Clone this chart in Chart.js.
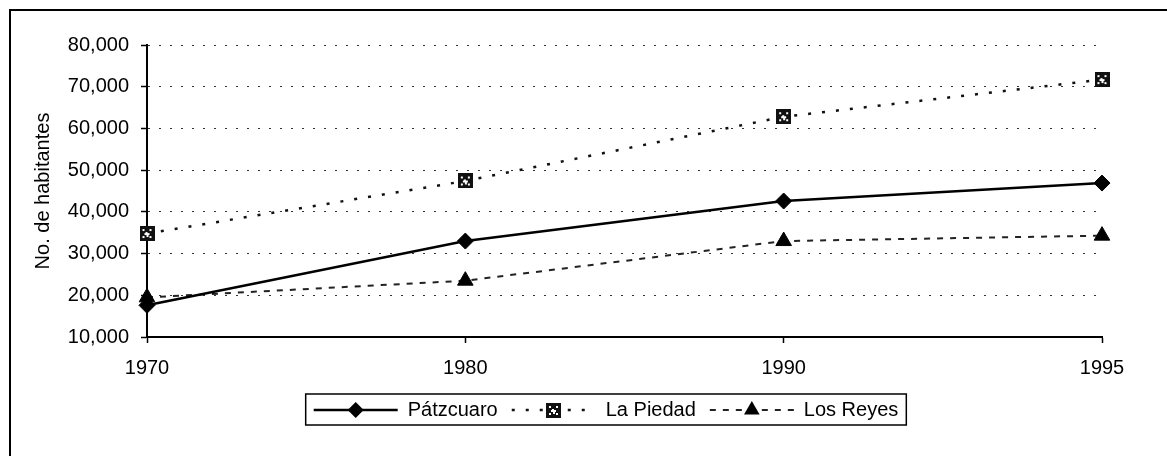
<!DOCTYPE html>
<html>
<head>
<meta charset="utf-8">
<script src="https://cdn.jsdelivr.net/npm/chart.js@4.4.0/dist/chart.umd.min.js"></script>
<style>
  html, body { margin: 0; padding: 0; background: #fff; overflow: hidden; }
  #wrap { position: relative; width: 1167px; height: 456px; }
  #frame { position: absolute; left: 9px; top: 9px; width: 1200px; height: 500px; border: 2px solid #000; pointer-events: none; }
  canvas { position: absolute; left: 0; top: 0; }
</style>
</head>
<body>
<div id="wrap">
  <canvas id="popChart" width="1167" height="456"></canvas>
  <div id="frame"></div>
</div>
<script>
// data
var years = ['1970', '1980', '1990', '1995'];
var patzcuaro = [17600, 33000, 42600, 46900];
var laPiedad = [34800, 47400, 62800, 71700];
var losReyes = [19500, 23500, 33000, 34300];
var yTicks = [10000, 20000, 30000, 40000, 50000, 60000, 70000, 80000];

// little speckled square used as the La Piedad marker
function makeSquare(size) {
    var c = document.createElement('canvas');
    c.width = size; c.height = size;
    var g = c.getContext('2d');
    g.fillStyle = '#111';
    g.fillRect(0, 0, size, size);
    g.fillStyle = '#fff';
    var pts = [[3,3],[size-5,3],[3,size-5],[size-5,size-5],[Math.floor(size/2)-1,Math.floor(size/2)-1],
               [5,7],[size-7,7],[7,size-6],[size-8,size-7]];
    pts.forEach(function(p) { g.fillRect(p[0], p[1], 2, 2); });
    return c;
}
var squareImg = makeSquare(15);

function drawMarker(ctx, style, x, y, r) {
    ctx.fillStyle = '#000';
    if (style === 'rectRot') {
        ctx.beginPath();
        ctx.moveTo(x, y - r); ctx.lineTo(x + r, y); ctx.lineTo(x, y + r); ctx.lineTo(x - r, y);
        ctx.closePath(); ctx.fill();
    } else if (style === 'triangle') {
        ctx.beginPath();
        ctx.moveTo(x, y - r);
        ctx.lineTo(x + r * Math.sin(Math.PI / 3), y + r / 2);
        ctx.lineTo(x - r * Math.sin(Math.PI / 3), y + r / 2);
        ctx.closePath(); ctx.fill();
    } else if (style && style.width) {
        ctx.drawImage(style, Math.round(x - style.width / 2), Math.round(y - style.height / 2));
    }
}

// move the legend a bit right, like in the original
var legendShift = {
    id: 'legendShift',
    afterLayout: function(chart) {
        var lg = chart.legend;
        if (!lg) return;
        var dx = 606 - (lg.left + lg.right) / 2;
        lg.left += dx;
        lg.right += dx;
    }
};

// legend: line sample with marker, plus a box round it
var legendSamples = {
    id: 'legendSamples',
    afterDraw: function(chart) {
        var lg = chart.legend;
        if (!lg || !lg.legendHitBoxes || !lg.legendHitBoxes.length) return;
        var ctx = chart.ctx;
        var boxes = lg.legendHitBoxes;
        var bw = lg.options.labels.boxWidth;
        ctx.save();
        boxes.forEach(function(hb, i) {
            var ds = chart.data.datasets[i];
            var cy = hb.top + hb.height / 2;
            ctx.strokeStyle = ds.borderColor;
            ctx.lineWidth = ds.borderWidth;
            ctx.setLineDash(ds.borderDash || []);
            ctx.beginPath();
            ctx.moveTo(hb.left, cy);
            ctx.lineTo(hb.left + bw, cy);
            ctx.stroke();
            ctx.setLineDash([]);
            drawMarker(ctx, ds.pointStyle, hb.left + bw / 2, cy, ds.pointRadius);
        });
        var first = boxes[0], last = boxes[boxes.length - 1];
        ctx.strokeStyle = '#000';
        ctx.lineWidth = 1.5;
        ctx.strokeRect(first.left - 8, first.top - 6, last.left + last.width - first.left + 16, first.height + 11);
        ctx.restore();
    }
};

Chart.defaults.font.family = "'Liberation Sans', Arial, sans-serif";
Chart.defaults.font.size = 20;
Chart.defaults.color = '#000';

var ctx = document.getElementById('popChart').getContext('2d');
var popChart = new Chart(ctx, {
    type: 'line',
    data: {
        labels: years,
        datasets: [{
            label: 'Pátzcuaro',
            data: patzcuaro,
            borderColor: '#000',
            backgroundColor: '#000',
            borderWidth: 2.5,
            pointStyle: 'rectRot',
            pointRadius: 8,
            pointBackgroundColor: '#000',
            pointBorderColor: '#000',
            pointBorderWidth: 1
        }, {
            label: 'La Piedad',
            data: laPiedad,
            borderColor: '#111',
            backgroundColor: '#111',
            borderWidth: 2.5,
            borderDash: [3, 11],
            pointStyle: squareImg,
            pointRadius: 8
        }, {
            label: 'Los Reyes',
            data: losReyes,
            borderColor: '#222',
            backgroundColor: '#000',
            borderWidth: 2,
            borderDash: [6, 7],
            pointStyle: 'triangle',
            pointRadius: 9,
            pointBackgroundColor: '#000',
            pointBorderColor: '#000',
            pointBorderWidth: 1
        }]
    },
    options: {
        responsive: false,
        animation: false,
        devicePixelRatio: 1,
        layout: { padding: { left: 12, right: 65, top: 45, bottom: 26 } },
        elements: { line: { tension: 0, fill: false } },
        plugins: {
            tooltip: { enabled: false },
            legend: {
                position: 'bottom',
                labels: {
                    boxWidth: 84,
                    boxHeight: 19,
                    padding: 14,
                    color: '#000',
                    font: { size: 20 },
                    generateLabels: function(chart) {
                        var items = Chart.defaults.plugins.legend.labels.generateLabels(chart);
                        items.forEach(function(it) {
                            it.fillStyle = 'rgba(0,0,0,0)';
                            it.strokeStyle = 'rgba(0,0,0,0)';
                            it.lineWidth = 0;
                            it.lineDash = [];
                        });
                        return items;
                    }
                }
            }
        },
        scales: {
            x: {
                type: 'category',
                offset: false,
                afterFit: function(scale) { scale.height = 49; },
                grid: {
                    drawOnChartArea: false,
                    drawTicks: true,
                    tickLength: 6,
                    tickColor: '#000',
                    tickWidth: 1.5
                },
                border: { display: true, color: '#000', width: 2 },
                ticks: { padding: 13, color: '#000', font: { size: 20 }, maxRotation: 0 }
            },
            y: {
                min: 10000,
                max: 80000,
                afterFit: function(scale) { scale.width = 135; },
                afterBuildTicks: function(scale) {
                    scale.ticks = yTicks.map(function(v) { return { value: v }; });
                },
                grid: {
                    color: '#333',
                    lineWidth: 1,
                    drawTicks: true,
                    tickLength: 6,
                    tickColor: '#000',
                    tickWidth: 1.5,
                    tickBorderDash: []
                },
                border: { display: true, color: '#000', width: 2, dash: [2, 9] },
                ticks: {
                    padding: 12,
                    color: '#000',
                    font: { size: 20 },
                    callback: function(v) { return Number(v).toLocaleString('en-US'); }
                },
                title: {
                    display: true,
                    text: 'No. de habitantes',
                    color: '#000',
                    font: { size: 20 },
                    padding: { top: 19, bottom: 0 }
                }
            }
        }
    },
    plugins: [legendShift, legendSamples]
});
</script>
</body>
</html>
